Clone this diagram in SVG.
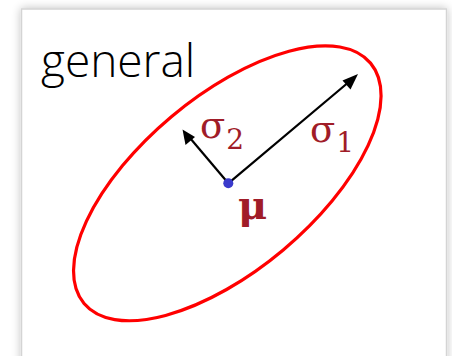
<svg xmlns="http://www.w3.org/2000/svg" width="452" height="356" viewBox="0 0 452 356">
<defs>
<filter id="sh" x="-10%" y="-10%" width="120%" height="120%">
<feGaussianBlur in="SourceAlpha" stdDeviation="5"/>
<feComponentTransfer><feFuncA type="linear" slope="0.25"/></feComponentTransfer>
<feMerge><feMergeNode/><feMergeNode in="SourceGraphic"/></feMerge>
</filter>
<style>
.lbl{font-family:"DejaVu Serif","Liberation Serif",serif;fill:#a01c28;}
.arr{stroke:#000;stroke-width:2.2;fill:none;}
</style>
</defs>
<rect width="452" height="356" fill="#fff"/>
<rect x="21.5" y="9" width="425" height="360" fill="#fff" stroke="#d4d4d4" stroke-width="1.5" filter="url(#sh)"/>
<text x="41" y="77" font-family="'Open Sans','Noto Sans',sans-serif" font-weight="300" font-size="46" fill="#000">general</text>
<g id="ellipse">
<ellipse cx="227.3" cy="183.3" rx="187" ry="87" transform="rotate(-40 227.3 183.3)" fill="none" stroke="#ff0000" stroke-width="3.2"/>
</g>
<g id="connectors">
<line class="arr" x1="228.3" y1="183.3" x2="350" y2="81"/>
<path d="M358,74 L342.5,80.5 L350.5,89.5 z" fill="#000"/>
<line class="arr" x1="228.3" y1="183.3" x2="190" y2="138"/>
<path d="M182.5,129.5 L185.5,145 L195,137 z" fill="#000"/>
</g>
<g id="mu">
<circle cx="228.3" cy="183.3" r="5" fill="#3a3acc"/>
<text class="lbl" x="238" y="219" font-size="40" font-weight="bold">μ</text>
</g>
<g id="sigma2">
<text class="lbl" x="200" y="138" font-size="37">σ<tspan font-size="28" dx="1" dy="11">2</tspan></text>
</g>
<g id="sigma1">
<text class="lbl" x="310" y="142" font-size="37">σ<tspan font-size="28" dx="1" dy="10">1</tspan></text>
</g>
</svg>
